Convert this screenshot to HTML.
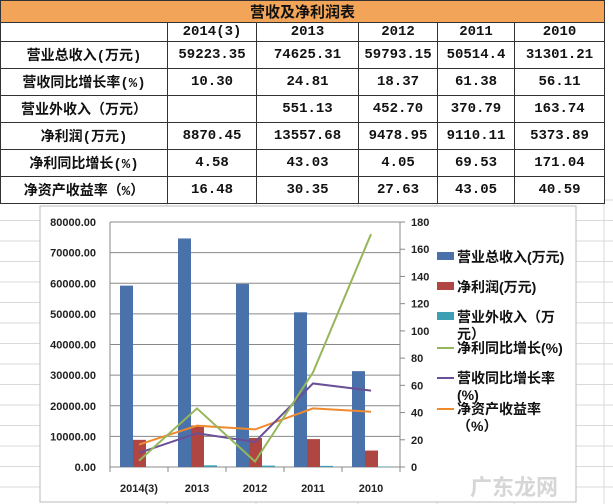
<!DOCTYPE html>
<html><head><meta charset="utf-8"><style>
body{margin:0;width:613px;height:504px;background:#fff;overflow:hidden;font-family:"Liberation Sans","Noto Sans CJK SC",sans-serif;position:relative}
table{position:absolute;left:0;top:0;border-collapse:collapse;font-family:"Liberation Mono","Noto Sans CJK SC",monospace;font-size:14px;font-weight:bold;color:#111;z-index:2}
td{border:1px solid #333;text-align:center;padding:0;height:26px;background:#fff}
td.t{background:#f2a458;height:20px;font-family:"Noto Sans CJK SC",sans-serif;font-size:15px}
#chart{position:absolute;left:0;top:0}
</style></head><body>
<table>
<tr><td class="t" colspan="6">营收及净利润表</td></tr>
<tr style="height:19px"><td style="width:166px;height:18px"></td><td style="width:88px;height:18px">2014(3)</td><td style="width:101px;height:18px">2013</td><td style="width:78px;height:18px">2012</td><td style="width:76px;height:18px">2011</td><td style="width:89px;height:18px">2010</td></tr>
<tr><td>营业总收入(万元)</td><td>59223.35</td><td>74625.31</td><td>59793.15</td><td>50514.4</td><td>31301.21</td></tr>
<tr><td>营收同比增长率(%)</td><td>10.30</td><td>24.81</td><td>18.37</td><td>61.38</td><td>56.11</td></tr>
<tr><td>营业外收入（万元）</td><td></td><td>551.13</td><td>452.70</td><td>370.79</td><td>163.74</td></tr>
<tr><td>净利润(万元)</td><td>8870.45</td><td>13557.68</td><td>9478.95</td><td>9110.11</td><td>5373.89</td></tr>
<tr><td>净利同比增长(%)</td><td>4.58</td><td>43.03</td><td>4.05</td><td>69.53</td><td>171.04</td></tr>
<tr><td>净资产收益率（%）</td><td>16.48</td><td>30.35</td><td>27.63</td><td>43.05</td><td>40.59</td></tr>
</table>
<svg id="chart" width="613" height="504" xmlns="http://www.w3.org/2000/svg"></svg>
<script>
const categories=["2014(3)","2013","2012","2011","2010"];
const revenue=[59223.35,74625.31,59793.15,50514.4,31301.21];
const netProfit=[8870.45,13557.68,9478.95,9110.11,5373.89];
const otherIncome=[0,551.13,452.70,370.79,163.74];
const profitGrowth=[4.58,43.03,4.05,69.53,171.04];
const revenueGrowth=[10.30,24.81,18.37,61.38,56.11];
const roe=[16.48,30.35,27.63,43.05,40.59];
const leftTicks=[0,10000,20000,30000,40000,50000,60000,70000,80000];
const rightTicks=[0,20,40,60,80,100,120,140,160,180];
const NS="http://www.w3.org/2000/svg";
const svg=document.getElementById('chart');
function mk(t,a,txt){const e=document.createElementNS(NS,t);for(const k in a)e.setAttribute(k,a[k]);if(txt!==undefined)e.textContent=txt;svg.appendChild(e);return e;}
for(let y=200;y<504;y+=20.5)mk('line',{x1:0,x2:613,y1:y,y2:y,stroke:'#dadada'});
[167,256,358,437,514,604].forEach(x=>mk('line',{x1:x,x2:x,y1:200,y2:504,stroke:'#dadada'}));
const L=110,R=400,T=222,B=467,cw=(R-L)/categories.length;
const yL=v=>B-(v/80000)*(B-T);
const yR=v=>B-(v/180)*(B-T);
const xC=i=>L+cw*(i+0.5);
let e=mk('rect',{x:40,y:206,width:536,height:296,fill:'#fff',stroke:'#bbb'});


leftTicks.forEach(v=>{
 let g=mk('line',{x1:L,x2:R,y1:yL(v),y2:yL(v),stroke:'#888','stroke-width':1});
 
 
 let t=mk('text',{x:96,y:yL(v)+4,'text-anchor':'end','font-size':11,'font-weight':'bold',fill:'#222'},v.toFixed(2));
 
 
});
rightTicks.forEach(v=>{
 let t=mk('text',{x:411,y:yR(v)+4,'font-size':11,'font-weight':'bold',fill:'#222'},String(v));
 
 
 mk('line',{x1:R,x2:R+5,y1:yR(v),y2:yR(v),stroke:'#888'});
});
mk('line',{x1:L,x2:L,y1:T,y2:B,stroke:'#888'});
mk('line',{x1:R,x2:R,y1:T,y2:B,stroke:'#888'});
categories.forEach((c,i)=>{
 const x0=L+cw*i;
 mk('line',{x1:x0,x2:x0,y1:B,y2:B+5,stroke:'#888'});
 let b=mk('rect',{x:x0+10,y:yL(revenue[i]),width:13,height:B-yL(revenue[i]),fill:'#4a72aa'});
 
 
 b=mk('rect',{x:x0+23,y:yL(netProfit[i]),width:13,height:B-yL(netProfit[i]),fill:'#b04642'});
 
 
 b=mk('rect',{x:x0+36,y:yL(otherIncome[i]),width:13,height:B-yL(otherIncome[i]),fill:'#3c9fb4'});
 
 
 let t=mk('text',{x:xC(i),y:492,'text-anchor':'middle','font-size':11,'font-weight':'bold',fill:'#222'},c);
 
 
});
mk('line',{x1:R,x2:R,y1:B,y2:B+5,stroke:'#888'});
function line(arr,color,name){
 const p=mk('polyline',{points:arr.map((v,i)=>xC(i)+','+yR(v)).join(' '),fill:'none',stroke:color,'stroke-width':2});
 
 
}
line(roe,'#ef8a2e','line-roe');
line(revenueGrowth,'#6a4f96','line-revenue-growth');
line(profitGrowth,'#96b65a','line-profit-growth');
const leg=[
 ['rect','#4a72aa',257,['营业总收入(万元)']],
 ['rect','#b04642',287,['净利润(万元)']],
 ['rect','#3c9fb4',317,['营业外收入（万','元）']],
 ['line','#96b65a',348,['净利同比增长(%)']],
 ['line','#6a4f96',378,['营收同比增长率','(%)']],
 ['line','#ef8a2e',409,['净资产收益率','（%）']]
];
leg.forEach(([k,c,y,txt])=>{
 if(k==='rect')mk('rect',{x:437,y:y-5,width:17,height:8,fill:c});
 else mk('line',{x1:437,x2:454,y1:y,y2:y,stroke:c,'stroke-width':2});
 txt.forEach((s,j)=>{
  let t=mk('text',{x:457,y:y+5+j*17,'font-size':14,'font-weight':'bold',fill:'#111'},s);
  
  
 });
});
let w=mk('text',{x:470,y:495,'font-size':22,'font-weight':'bold',fill:'#ccc',opacity:0.8},'广东龙网');


</script>
</body></html>
